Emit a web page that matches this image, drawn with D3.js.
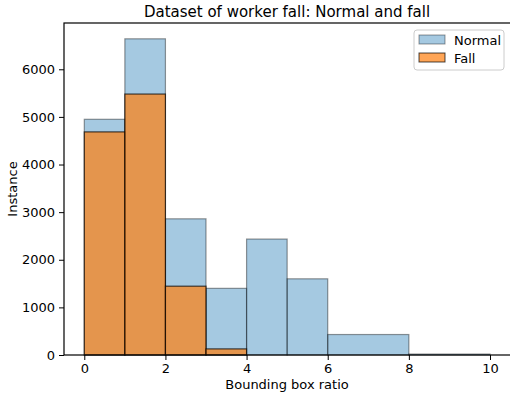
<!DOCTYPE html>
<html><head><meta charset="utf-8">
<script src="https://cdn.jsdelivr.net/npm/d3@7"></script>
<style>body{margin:0;background:#fff}svg{display:block;font-family:"DejaVu Sans",sans-serif}</style>
</head><body><svg id="c" width="510" height="395"></svg>
<script>
const binEdges = [0,1,2,3,4,5,6,8,10];
const normalCounts = [4950,6640,2860,1400,2435,1600,430,20];
const fallCounts = [4685,5480,1445,128,0,0,0,0];
const yTicks = [0,1000,2000,3000,4000,5000,6000];
const xTicks = [0,2,4,6,8,10];
const seriesNames = ["Normal","Fall"];

const svg = d3.select("#c");
const L=64,R=510,T=23,B=355;
const x = d3.scaleLinear().domain([-0.5,10.5]).range([L,R+0.3]);
const y = d3.scaleLinear().domain([0,6972]).range([B,T]);

function bars(counts, color, alpha){
  const data = counts.map((c,i)=>({x0:binEdges[i],x1:binEdges[i+1],c})).filter(d=>d.c>0);
  svg.append("g").selectAll("rect").data(data).join("rect")
    .attr("x",d=>x(d.x0)).attr("width",d=>x(d.x1)-x(d.x0))
    .attr("y",d=>y(d.c)).attr("height",d=>y(0)-y(d.c))
    .attr("fill",color).attr("fill-opacity",alpha)
    .attr("stroke","#000").attr("stroke-opacity",alpha).attr("stroke-width",1.2);
}
bars(normalCounts,"#1f77b4",0.4);
bars(fallCounts,"#ff7f0e",0.7);

const xa = svg.append("g").attr("transform",`translate(0,${B})`)
  .call(d3.axisBottom(x).tickValues(xTicks).tickFormat(d3.format("d")).tickSize(5).tickPadding(4));
const ya = svg.append("g").attr("transform",`translate(${L},0)`)
  .call(d3.axisLeft(y).tickValues(yTicks).tickFormat(d3.format("d")).tickSize(5).tickPadding(4));
[xa,ya].forEach(a=>{a.select(".domain").remove();a.selectAll("text").attr("font-size",13).attr("font-family","DejaVu Sans").attr("fill","#000");a.selectAll("line").attr("stroke","#000").attr("stroke-width",1);});
svg.append("rect").attr("x",L).attr("y",T).attr("width",R-L+2).attr("height",B-T)
  .attr("fill","none").attr("stroke","#000").attr("stroke-width",1.2);

svg.append("text").attr("x",287).attr("y",17).attr("text-anchor","middle")
  .attr("font-size",15).text("Dataset of worker fall: Normal and fall");
svg.append("text").attr("x",287).attr("y",389).attr("text-anchor","middle")
  .attr("font-size",13).text("Bounding box ratio");
svg.append("text").attr("transform","translate(17,189) rotate(-90)").attr("text-anchor","middle")
  .attr("font-size",13).text("Instance");

const lg = svg.append("g");
lg.append("rect").attr("x",414).attr("y",30).attr("width",90).attr("height",40).attr("rx",3)
  .attr("fill","#fff").attr("fill-opacity",0.8).attr("stroke","#ccc");
const cols=[["#1f77b4",0.4],["#ff7f0e",0.7]];
seriesNames.forEach((n,i)=>{
  lg.append("rect").attr("x",419).attr("y",35+i*18).attr("width",26).attr("height",9)
    .attr("fill",cols[i][0]).attr("fill-opacity",cols[i][1]).attr("stroke","#000").attr("stroke-opacity",cols[i][1]);
  lg.append("text").attr("x",454).attr("y",44.5+i*18).attr("font-size",13).text(n);
});
</script></body></html>
